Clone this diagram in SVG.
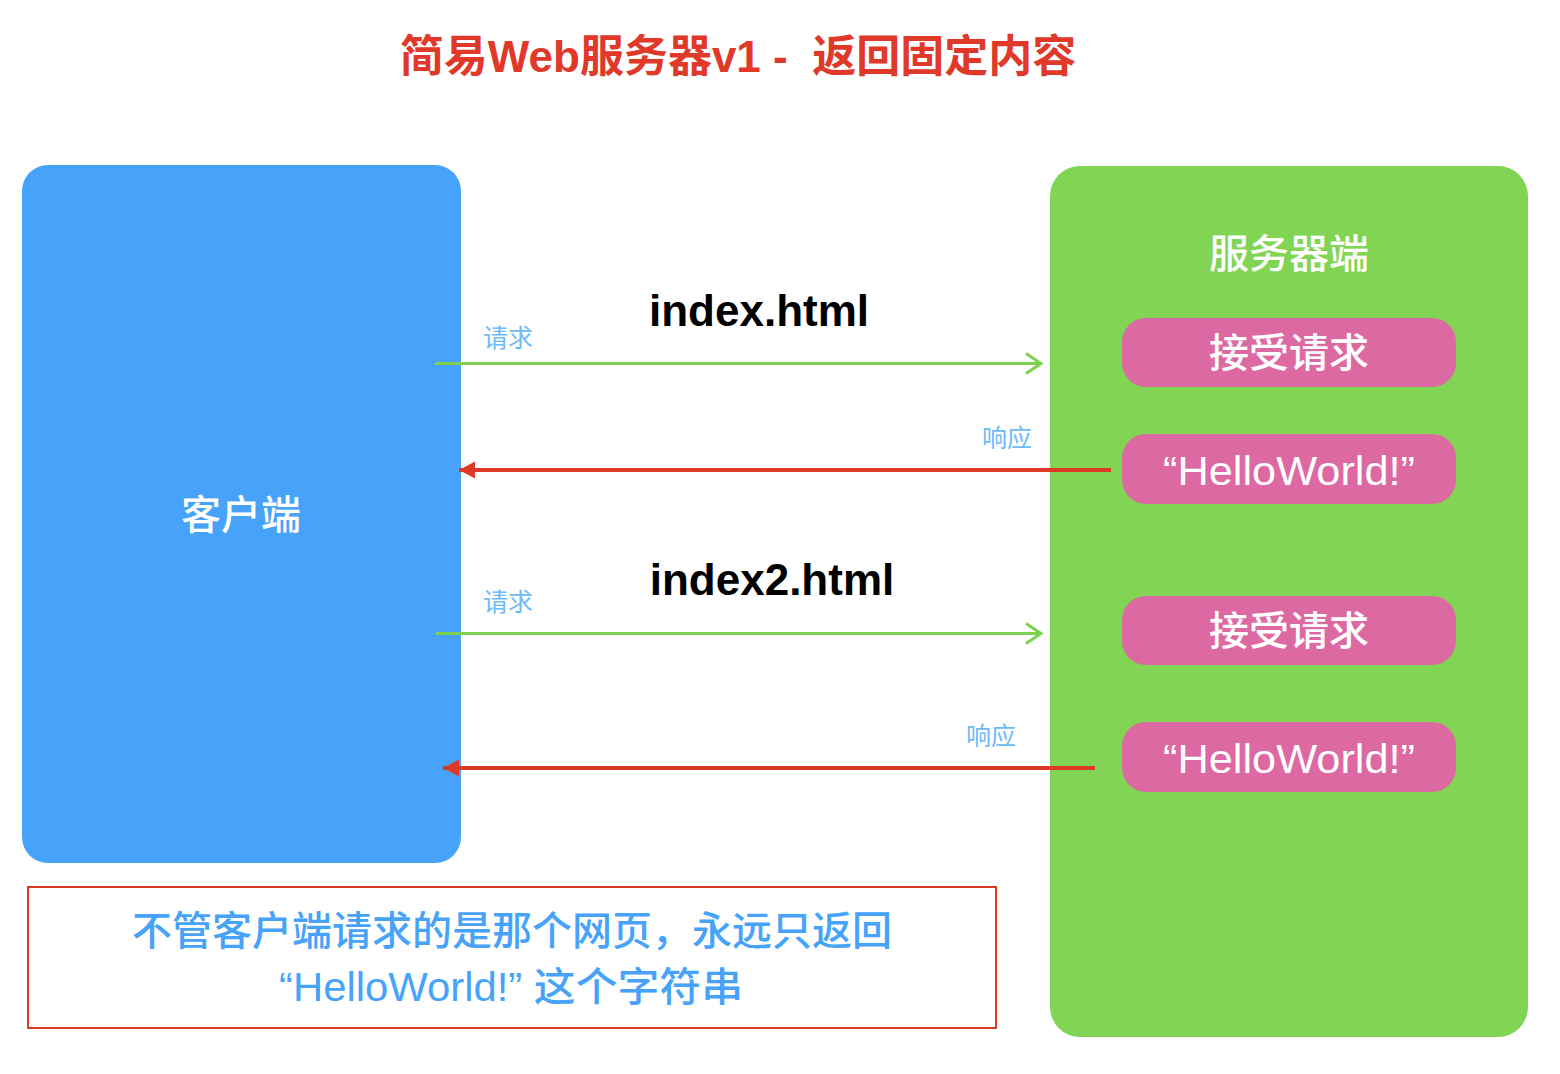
<svg xmlns="http://www.w3.org/2000/svg" width="1560" height="1074" viewBox="0 0 1560 1074">
<style>
.cjk{font-family:"Liberation Sans","Noto Sans CJK SC",sans-serif}
.pink{fill:#DD69A2}
.wt{fill:#fff;font-size:40px;text-anchor:middle;font-weight:500}
.lbl{fill:#6CBBF7;font-size:25px}
.file{fill:#000;font-size:44px;font-weight:bold;text-anchor:middle}
.blue{fill:#47A3F9;font-size:40px;text-anchor:middle;font-weight:500}
.req{stroke:#7ED14F;stroke-width:3;fill:none}
.resp{stroke:#DD3A25;stroke-width:4;fill:none}
</style>
<defs>
<marker id="open" viewBox="0 0 20 24" refX="17" refY="12" markerWidth="20" markerHeight="24" markerUnits="userSpaceOnUse" orient="auto">
<path d="M2,2 L17,12 L2,22" fill="none" stroke="#7ED14F" stroke-width="3"/>
</marker>
<marker id="tri" viewBox="0 0 16 17" refX="16" refY="8.5" markerWidth="16" markerHeight="17" markerUnits="userSpaceOnUse" orient="auto">
<path d="M16,8.5 L0,0 L0,17 Z" fill="#DD3A25"/>
</marker>
</defs>
<rect width="1560" height="1074" fill="#fff"/>
<text class="cjk" x="738" y="72" font-size="44" font-weight="bold" fill="#E0392A" text-anchor="middle" xml:space="preserve">简易Web服务器v1 -  返回固定内容</text>
<g id="client">
<rect x="22" y="165" width="439" height="698" rx="26" fill="#47A3F9"/>
<text class="cjk wt" x="241" y="529">客户端</text>
</g>
<g id="server">
<rect x="1050" y="166" width="478" height="871" rx="30" fill="#82D455"/>
<text class="cjk wt" x="1289" y="268">服务器端</text>
</g>
<g id="accept1">
<rect class="pink" x="1122" y="318" width="334" height="69" rx="24"/>
<text class="cjk wt" x="1289" y="367">接受请求</text>
</g>
<g id="hello1">
<rect class="pink" x="1122" y="434" width="334" height="70" rx="24"/>
<text class="cjk wt" x="1289" y="485" textLength="252" lengthAdjust="spacingAndGlyphs">“HelloWorld!”</text>
</g>
<g id="accept2">
<rect class="pink" x="1122" y="596" width="334" height="69" rx="24"/>
<text class="cjk wt" x="1289" y="645">接受请求</text>
</g>
<g id="hello2">
<rect class="pink" x="1122" y="722" width="334" height="70" rx="24"/>
<text class="cjk wt" x="1289" y="773" textLength="252" lengthAdjust="spacingAndGlyphs">“HelloWorld!”</text>
</g>
<g id="connectors">
<line class="req" x1="435" y1="363.5" x2="1041" y2="363.5" marker-end="url(#open)"/>
<line class="resp" x1="1111" y1="470" x2="459" y2="470" marker-end="url(#tri)"/>
<line class="req" x1="436" y1="633.5" x2="1041" y2="633.5" marker-end="url(#open)"/>
<line class="resp" x1="1095" y1="768" x2="443" y2="768" marker-end="url(#tri)"/>
<text class="cjk lbl" x="483" y="347">请求</text>
<text class="cjk file" x="759" y="326">index.html</text>
<text class="cjk lbl" x="982" y="447">响应</text>
<text class="cjk lbl" x="483" y="611">请求</text>
<text class="cjk file" x="772" y="595">index2.html</text>
<text class="cjk lbl" x="966" y="745">响应</text>
</g>
<g id="note">
<rect x="28" y="887" width="968" height="141" fill="none" stroke="#DD3A25" stroke-width="2"/>
<text class="cjk blue" x="512" y="945">不管客户端请求的是那个网页，永远只返回</text>
<text class="cjk blue" x="511" y="1001" textLength="464" lengthAdjust="spacingAndGlyphs">“HelloWorld!” 这个字符串</text>
</g>
</svg>
